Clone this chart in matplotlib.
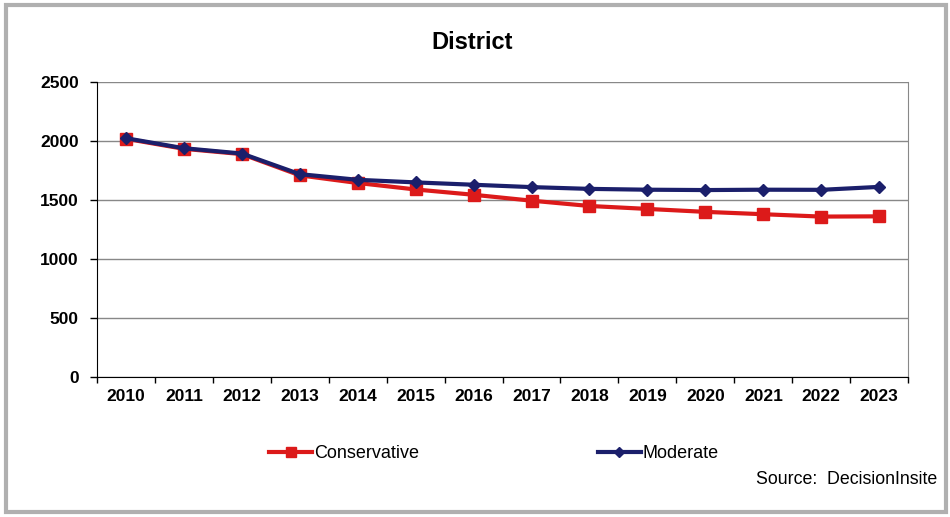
import matplotlib.pyplot as plt
from matplotlib.patches import Rectangle

plt.rcParams['font.family'] = ['Liberation Sans', 'DejaVu Sans']

years = ["2010", "2011", "2012", "2013", "2014", "2015", "2016",
         "2017", "2018", "2019", "2020", "2021", "2022", "2023"]
conservative = [2020, 1935, 1890, 1710, 1645, 1590, 1545,
                1495, 1450, 1425, 1400, 1380, 1360, 1362]
moderate = [2025, 1940, 1895, 1720, 1672, 1650, 1630,
            1610, 1595, 1588, 1585, 1588, 1587, 1612]

fig = plt.figure(figsize=(9.5, 5.17), dpi=100)
ax = fig.add_axes([0.102, 0.271, 0.854, 0.570])

x = range(len(years))
ax.plot(x, conservative, color='#dc1a1a', lw=3, marker='s', ms=9,
        mec='#dc1a1a', label='Conservative', zorder=3)
ax.plot(x, moderate, color='#1b1f6b', lw=3, marker='D', ms=6,
        mec='#1b1f6b', label='Moderate', zorder=4)

ax.set_xlim(-0.5, len(years) - 0.5)
ax.set_ylim(0, 2500)
ax.set_yticks(range(0, 2501, 500))
ax.set_xticks(x)
ax.set_xticklabels(years, fontsize=12.5, fontweight='bold')
ax.tick_params(axis='y', labelsize=12.5, length=5, width=1, color='black', pad=8)
for lab in ax.get_yticklabels():
    lab.set_fontweight('bold')
ax.tick_params(axis='x', length=0, pad=9)
# tick marks between categories, Excel-style
ax.set_xticks([i - 0.5 for i in range(len(years) + 1)], minor=True)
ax.tick_params(axis='x', which='minor', length=4, width=1, color='black')

ax.grid(axis='y', color='#888888', lw=1)
ax.set_axisbelow(True)
ax.spines['left'].set_color('black')
ax.spines['bottom'].set_color('black')
ax.spines['top'].set_visible(False)
ax.spines['right'].set_color('#888888')

fig.text(0.497, 0.918, "District", ha='center', va='center',
         fontsize=17, fontweight='bold')

# legend entries laid out in two spaced columns
fig.legend(loc='center', bbox_to_anchor=(0.52, 0.123), ncol=2, frameon=False,
           fontsize=13, handlelength=2.4, handletextpad=0.1, columnspacing=9.9,
           markerscale=0.8)
fig.text(0.987, 0.073, "Source:  DecisionInsite", ha='right', va='center',
         fontsize=12.8)

# outer frame
fig.patches.append(Rectangle((0.006, 0.01), 0.99, 0.98, transform=fig.transFigure,
                             fill=False, ec='#b0b0b0', lw=3))

fig.savefig('out.png', dpi=100)
